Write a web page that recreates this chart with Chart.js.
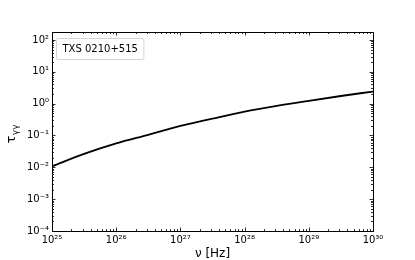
<!DOCTYPE html>
<html>
<head>
<meta charset="utf-8">
<script src="https://cdn.jsdelivr.net/npm/chart.js@4"></script>
<style>
  html, body { margin: 0; padding: 0; background: #fff; }
  #wrap { width: 415px; height: 260px; }
</style>
</head>
<body>
<div id="wrap"><canvas id="tauChart" width="415" height="260"></canvas></div>
<script>
// frequency nu [Hz] and optical depth tau_gamma-gamma
const nu = [1e25, 3.16e25, 1e26, 3.16e26, 1e27, 3.16e27, 1e28, 3.16e28, 1e29, 3.16e29, 1e30];
const tau = [0.0107, 0.0263, 0.0562, 0.105, 0.20, 0.339, 0.562, 0.851, 1.23, 1.74, 2.40];
const xDecades = [25, 26, 27, 28, 29, 30];
const yDecades = [-4, -3, -2, -1, 0, 1, 2];
const sourceName = "TXS 0210+515";

const FONT = "'DejaVu Sans', sans-serif";
const SUP = { "0": "⁰", "1": "¹", "2": "²", "3": "³", "4": "⁴", "5": "⁵", "6": "⁶", "7": "⁷", "8": "⁸", "9": "⁹", "-": "⁻" };

function powLabel(v) {
  const e = Math.round(Math.log10(v));
  return "10" + String(e).split("").map((c) => SUP[c]).join("");
}

// matplotlib-like frame: inward ticks on all four sides, legend box, y label
const framePlugin = {
  id: "frame",
  afterDraw(chart) {
    const ctx = chart.ctx;
    const { left, right, top, bottom } = chart.chartArea;
    const xs = chart.scales.x;
    const ys = chart.scales.y;
    ctx.save();
    ctx.strokeStyle = "#000";
    ctx.lineWidth = 0.8;

    const tickX = (v, len) => {
      const p = Math.round(xs.getPixelForValue(v)) + 0.5;
      ctx.beginPath();
      ctx.moveTo(p, bottom); ctx.lineTo(p, bottom - len);
      ctx.moveTo(p, top); ctx.lineTo(p, top + len);
      ctx.stroke();
    };
    const tickY = (v, len) => {
      const p = Math.round(ys.getPixelForValue(v)) + 0.5;
      ctx.beginPath();
      ctx.moveTo(left, p); ctx.lineTo(left + len, p);
      ctx.moveTo(right, p); ctx.lineTo(right - len, p);
      ctx.stroke();
    };

    for (let e = 25; e <= 30; e++) {
      for (let k = 1; k <= 9; k++) {
        const v = k * Math.pow(10, e);
        if (v < xs.min * 0.999 || v > xs.max * 1.001) continue;
        tickX(v, k === 1 ? 3.5 : 2);
      }
    }
    for (let e = -4; e <= 2; e++) {
      for (let k = 1; k <= 9; k++) {
        const v = k * Math.pow(10, e);
        if (v < ys.min * 0.999 || v > ys.max * 1.001) continue;
        tickY(v, k === 1 ? 3.5 : 2);
      }
    }

    ctx.lineWidth = 1;
    ctx.strokeRect(Math.round(left) + 0.5, Math.round(top) + 0.5,
      Math.round(right - left), Math.round(bottom - top));

    // legend (text only, no handle)
    ctx.font = "10px " + FONT;
    const w = ctx.measureText(sourceName).width + 12;
    const bx = left + 4.5, by = top + 6.5;
    ctx.beginPath();
    ctx.roundRect(bx, by, w, 21, 2);
    ctx.fillStyle = "rgba(255,255,255,0.8)";
    ctx.fill();
    ctx.strokeStyle = "#d4d4d4";
    ctx.stroke();
    ctx.fillStyle = "#000";
    ctx.textBaseline = "middle";
    ctx.fillText(sourceName, bx + 6, by + 11);

    // y axis label: tau with gamma-gamma subscript, rotated
    ctx.translate(15, (top + bottom) / 2 + 12);
    ctx.rotate(-Math.PI / 2);
    ctx.textBaseline = "alphabetic";
    ctx.textAlign = "left";
    ctx.font = "13px " + FONT;
    ctx.fillText("τ", 0, 0);
    const tw = ctx.measureText("τ").width;
    ctx.font = "9px " + FONT;
    ctx.fillText("γγ", tw + 0.5, 3);
    ctx.restore();
  },
};

new Chart(document.getElementById("tauChart"), {
  type: "line",
  data: {
    datasets: [{
      data: nu.map((v, i) => ({ x: v, y: tau[i] })),
      borderColor: "#000",
      borderWidth: 1.8,
      pointRadius: 0,
      cubicInterpolationMode: "monotone",
      fill: false,
    }],
  },
  options: {
    responsive: false,
    animation: false,
    events: [],
    layout: { padding: { top: 32, right: 42, left: 0, bottom: 0 } },
    plugins: { legend: { display: false }, tooltip: { enabled: false } },
    scales: {
      x: {
        type: "logarithmic",
        min: 1e25,
        max: 1e30,
        border: { display: false },
        grid: { display: false, drawTicks: false },
        afterBuildTicks: (s) => { s.ticks = xDecades.map((e) => ({ value: Math.pow(10, e), major: true })); },
        afterFit: (s) => { s.height = 29; },
        ticks: {
          autoSkip: false,
          maxRotation: 0,
          padding: 3,
          color: "#000",
          font: { family: FONT, size: 10 },
          callback: (v) => powLabel(v),
        },
        title: {
          display: true,
          text: "ν [Hz]",
          color: "#000",
          font: { family: FONT, size: 12 },
          padding: { top: 0, bottom: -1 },
        },
      },
      y: {
        type: "logarithmic",
        min: 1e-4,
        max: 178,
        border: { display: false },
        grid: { display: false, drawTicks: false },
        afterBuildTicks: (s) => { s.ticks = yDecades.map((e) => ({ value: Math.pow(10, e), major: true })); },
        afterFit: (s) => { s.width = 52; },
        ticks: {
          autoSkip: false,
          padding: 3,
          color: "#000",
          font: { family: FONT, size: 10 },
          callback: (v) => powLabel(v),
        },
      },
    },
  },
  plugins: [framePlugin],
});
</script>
</body>
</html>
